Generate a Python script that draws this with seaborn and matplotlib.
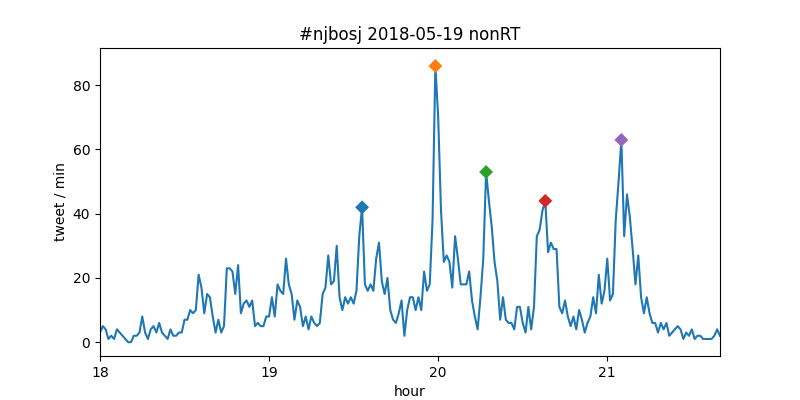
import numpy as np
import pandas as pd
import matplotlib
matplotlib.use('Agg')
import matplotlib.pyplot as plt
import seaborn as sns

# tweets per minute, 18:00 -> 21:40
start_hour = 18
tweets_per_min = [
    3, 5, 4, 1, 2, 1, 4, 3, 2, 1, 0, 0, 2, 2, 3, 8, 3, 1, 4, 5,
    3, 6, 3, 2, 1, 4, 2, 2, 3, 3, 7, 7, 10, 9, 10, 21, 17, 9, 15, 14,
    8, 3, 7, 3, 5, 23, 23, 22, 15, 24, 9, 12, 13, 11, 13, 5, 6, 5, 5, 8,
    8, 14, 8, 18, 16, 15, 26, 18, 15, 7, 13, 11, 5, 8, 4, 8, 6, 5, 6, 15,
    17, 27, 18, 19, 30, 14, 10, 14, 12, 14, 12, 16, 33, 42, 18, 16, 18, 16, 26, 31,
    19, 15, 20, 10, 7, 6, 9, 13, 2, 10, 14, 14, 10, 14, 10, 22, 16, 18, 38, 86,
    70, 41, 25, 27, 25, 17, 33, 26, 18, 18, 18, 22, 13, 8, 4, 14, 26, 53, 44, 36,
    25, 19, 7, 14, 7, 6, 6, 4, 11, 11, 6, 3, 11, 4, 11, 33, 35, 41, 44, 28,
    31, 29, 29, 11, 9, 13, 8, 5, 8, 4, 10, 7, 3, 6, 8, 14, 9, 21, 12, 16,
    26, 13, 15, 38, 50, 63, 33, 46, 39, 29, 18, 27, 14, 9, 14, 9, 6, 6, 3, 6,
    4, 6, 2, 3, 4, 5, 4, 1, 3, 2, 4, 1, 2, 2, 1, 1, 1, 1, 2, 4,
    2,
]

# peak minutes (offset from 18:00) highlighted with diamonds
peak_minutes = [93, 119, 137, 158, 185]
peak_colors = ['C0', 'C1', 'C2', 'C3', 'C4']

minutes = np.arange(len(tweets_per_min))
df = pd.DataFrame({'hour': start_hour + minutes / 60.0, 'tweets': tweets_per_min})
peaks = df.iloc[peak_minutes].copy()
peaks['peak'] = [str(i) for i in range(len(peak_minutes))]

fig, ax = plt.subplots(figsize=(8, 4), dpi=100)
sns.lineplot(data=df, x='hour', y='tweets', ax=ax, color='C0', linewidth=1.5)
sns.scatterplot(data=peaks, x='hour', y='tweets', hue='peak', palette=peak_colors,
                marker='D', s=50, linewidth=0, legend=False, ax=ax, zorder=3)

ax.set_xlim(df['hour'].min(), df['hour'].max())
ax.set_ylim(-4.3, 91.6)
ax.set_xticks([18, 19, 20, 21])
ax.set_xticklabels(['18', '19', '20', '21'])
ax.set_yticks([0, 20, 40, 60, 80])
ax.set_title('#njbosj 2018-05-19 nonRT')
ax.set_xlabel('hour')
ax.set_ylabel('tweet / min')

fig.savefig('out.png')
